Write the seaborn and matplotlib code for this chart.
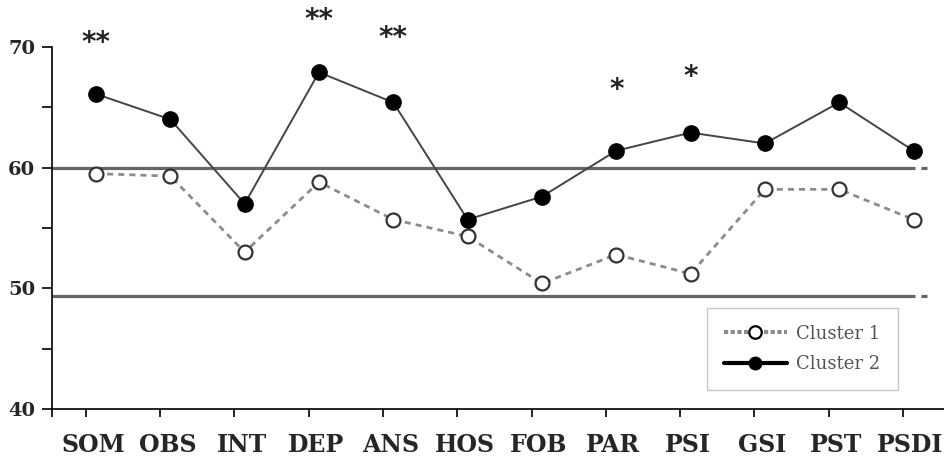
import numpy as np
import pandas as pd
import matplotlib
matplotlib.use("Agg")
import matplotlib.pyplot as plt
from matplotlib.lines import Line2D
import matplotlib.transforms as mtransforms
import seaborn as sns

# ---- data ----
categories = ["SOM", "OBS", "INT", "DEP", "ANS", "HOS", "FOB", "PAR", "PSI", "GSI", "PST", "PSDI"]
cluster1 = [59.5, 59.3, 53.0, 58.8, 55.7, 54.3, 50.4, 52.8, 51.2, 58.2, 58.2, 55.7]
cluster2 = [66.1, 64.0, 57.0, 67.9, 65.4, 55.7, 57.6, 61.4, 62.9, 62.0, 65.4, 61.4]
sig_marks = ["**", "", "", "**", "**", "", "", "*", "*", "", "", ""]
sig_y = [70.7, None, None, 72.6, 71.1, None, None, 66.8, 67.9, None, None, None]
ref_lines = [60.0, 49.4]
y_ticks = [40, 50, 60, 70]
y_minor = [45, 55, 65]
legend_labels = ["Cluster 1", "Cluster 2"]

sns.set_theme(style="white")
plt.rcParams["font.family"] = ["DejaVu Serif", "DejaVu Sans"]

df = pd.DataFrame({"idx": np.arange(len(categories)), "cat": categories,
                   "c1": cluster1, "c2": cluster2})

fig = plt.figure(figsize=(9.44, 4.63), dpi=100)
ax = fig.add_axes([52 / 944, 54 / 463, 1 - 52 / 944, 1 - 54 / 463])

xl, xr = -0.592, 11.41
ax.set_xlim(xl, xr)
ax.set_ylim(40, 73.89)

# reference lines
for yv in ref_lines:
    ax.plot([xl, 11.02], [yv, yv], color="#666666", lw=2.3, solid_capstyle="butt", zorder=1)
    ax.plot([11.10, 11.18], [yv, yv], color="#666666", lw=2.3, solid_capstyle="butt", zorder=1)

# series
sns.lineplot(data=df, x="idx", y="c1", ax=ax, sort=False, color="#8c8c8c", lw=2.0,
             linestyle=(0, (2.2, 1.8)), marker="o", markersize=10,
             markerfacecolor="white", markeredgecolor="#333333", markeredgewidth=1.6,
             zorder=3, legend=False)
sns.lineplot(data=df, x="idx", y="c2", ax=ax, sort=False, color="#444444", lw=1.4,
             marker="o", markersize=11, markerfacecolor="black", markeredgecolor="black",
             markeredgewidth=1, zorder=4, legend=False)

# significance marks (sig_y is the visual centre of the asterisks)
sig_fs = 20
sig_trans = mtransforms.offset_copy(ax.transData, fig=fig, x=0, y=-0.45 * sig_fs, units="points")
for i, (m, yv) in enumerate(zip(sig_marks, sig_y)):
    if m:
        ax.text(i, yv, m, ha="center", va="baseline", fontsize=sig_fs, color="#222222",
                family=["DejaVu Sans"], fontweight="bold", transform=sig_trans)

# spines
for s in ["top", "right"]:
    ax.spines[s].set_visible(False)
ax.spines["left"].set_bounds(40, 70)
ax.spines["left"].set_color("black")
ax.spines["bottom"].set_color("black")
ax.spines["left"].set_linewidth(1.2)
ax.spines["bottom"].set_linewidth(1.2)

# y ticks
ax.set_yticks(y_ticks)
ax.set_yticklabels([str(v) for v in y_ticks], fontsize=14, fontweight="bold")
ax.set_yticks(y_minor, minor=True)
ax.tick_params(axis="y", which="both", direction="out", length=7, width=1.2,
               color="black", left=True, pad=5)

# x ticks: labels near categories, tick marks slightly left
ax.set_xticks(df["idx"] - 0.04)
ax.set_xticklabels(categories, fontsize=17, fontweight="bold")
ax.set_xticks(list(np.arange(len(categories)) - 0.14) + [xl + 0.001], minor=True)
ax.tick_params(axis="x", which="major", length=0, pad=17)
ax.tick_params(axis="x", which="minor", direction="out", length=6, width=1.2,
               color="black", bottom=True)
ax.set_xlabel("")
ax.set_ylabel("")
ax.grid(False)

# legend
handles = [
    Line2D([0], [0], color="#8c8c8c", lw=3, linestyle=(0, (1.0, 0.6)), marker="o",
           markersize=9, markerfacecolor="white", markeredgecolor="black", markeredgewidth=1.6),
    Line2D([0], [0], color="black", lw=3, marker="o", markersize=9,
           markerfacecolor="black", markeredgecolor="black"),
]
leg = ax.legend(handles, legend_labels, loc="lower left", bbox_to_anchor=(0.734, 0.046),
                borderaxespad=0, frameon=True, fancybox=False, fontsize=13,
                handlelength=3.5, handletextpad=0.5, labelspacing=0.68, borderpad=0.95,
                framealpha=1)
leg.get_frame().set_edgecolor("#c8c8c8")
leg.get_frame().set_linewidth(1.0)
for t in leg.get_texts():
    t.set_color("#555555")

fig.savefig("out.png", dpi=100)
